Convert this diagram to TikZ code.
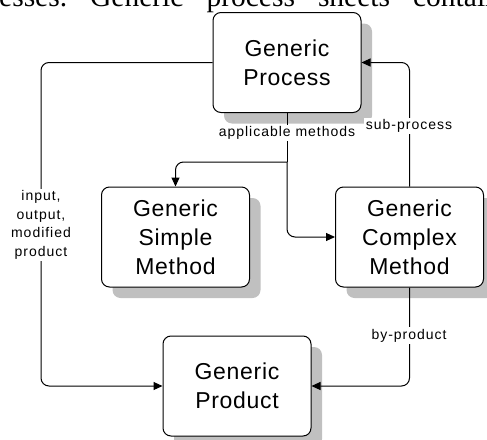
\documentclass[tikz,border=0pt]{standalone}
\usepackage{fontspec}
\setmainfont{Liberation Sans}
\newfontfamily\boxfont{Liberation Sans}[LetterSpace=3]
\newfontfamily\tagfont{Liberation Sans}[LetterSpace=7]
\newfontfamily\pagefont{Liberation Serif}
\usetikzlibrary{positioning,shadows,arrows.meta}
\definecolor{shadowgray}{RGB}{192,192,192}
\tikzset{
  sheet/.style={draw, line width=1pt, fill=white, rounded corners=8pt,
    minimum width=148pt, minimum height=100pt, inner sep=0pt, align=center,
    font=\boxfont\fontsize{23}{29}\selectfont,
    drop shadow={shadow xshift=11pt, shadow yshift=-11pt, fill=shadowgray, opacity=1}},
  link/.style={line width=1pt, rounded corners=8pt},
  linkarrow/.style={link, -{Triangle[length=9pt,width=8pt]}},
  tag/.style={fill=white, inner sep=1.5pt, align=center,
    font=\tagfont\fontsize{14}{18.5}\selectfont}
}

\begin{document}
\begin{tikzpicture}[x=1pt,y=-1pt]

    \useasboundingbox (0,0) rectangle (487,439);
    \clip (0,0) rectangle (487,439);

    % cut-off line of the page text above the figure
    \node[anchor=base west, inner sep=0pt, font=\pagefont\fontsize{29.5}{30}\selectfont]
        (pagetext) at (-1,6) {\spaceskip=23pt\xspaceskip=23pt esses. Generic process sheets contain};

    % sheets
    \node[sheet] (process) at (287,62.5)  {Generic\\Process};
    \node[sheet] (simple)  at (175.5,237) {Generic\\Simple\\Method};
    \node[sheet] (complex) at (409.5,237) {Generic\\Complex\\Method};
    \node[sheet] (product) at (237,386)   {Generic\\Product};

    \coordinate (inputrail) at (41,225);
    \coordinate (methodsplit) at (287,162);

    % connectors
    \draw[linkarrow] (process.west) -| (inputrail) |- (product.west);
    \draw[link] (process.south) -- (methodsplit);
    \draw[linkarrow] (methodsplit) -| (simple.north);
    \draw[linkarrow] (methodsplit) |- (complex.west);
    \draw[linkarrow] (complex.north) |- (process.east);
    \draw[linkarrow] (complex.south) |- (product.east);

    % labels
    \node[tag] (inputtag)   at (inputrail) {input,\\output,\\modified\\product};
    \node[tag] (methodstag) at (287,133)   {applicable methods};
    \node[tag] (subtag)     at (409,126)   {sub-process};
    \node[tag] (bytag)      at (409,335.5) {by-product};

\end{tikzpicture}
\end{document}
